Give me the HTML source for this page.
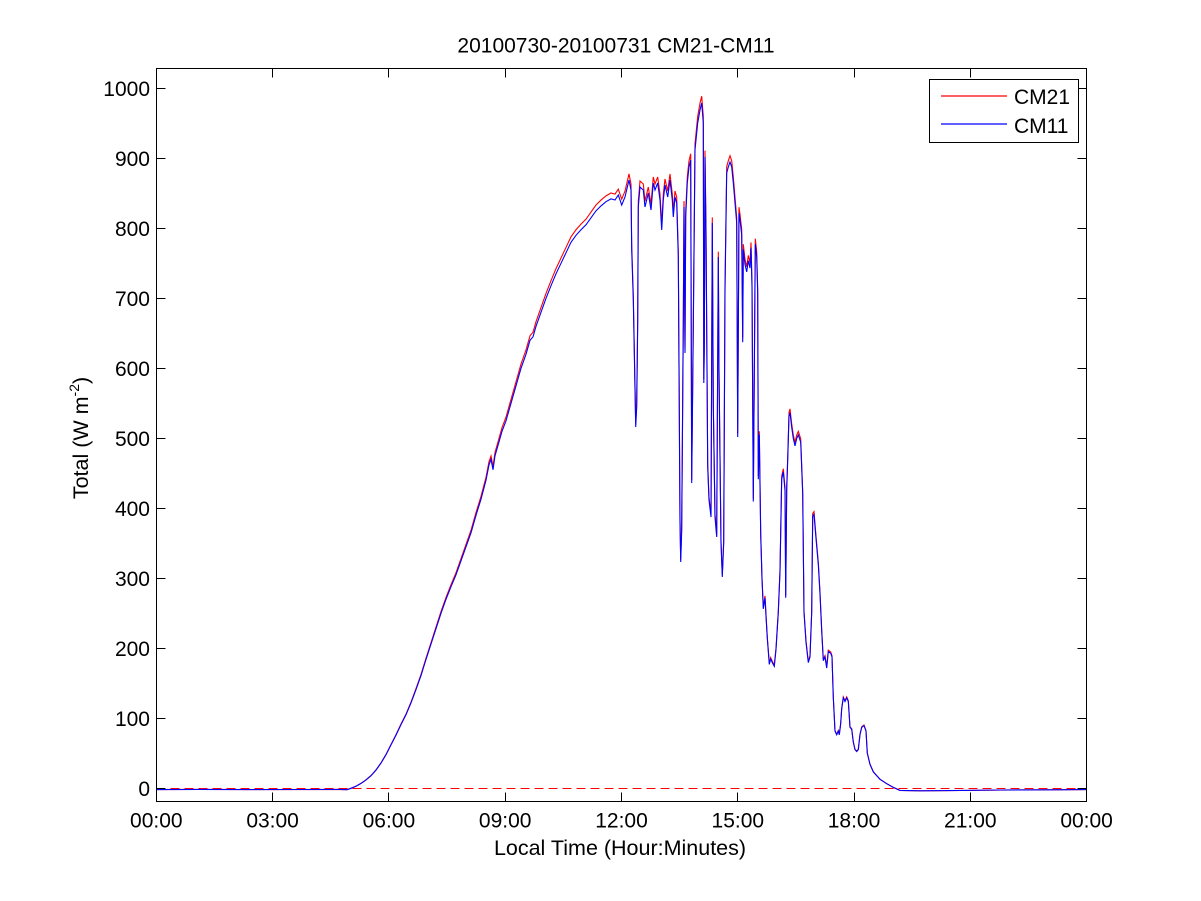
<!DOCTYPE html>
<html><head><meta charset="utf-8"><style>html,body{margin:0;padding:0;background:#fff}svg{display:block}</style></head>
<body>
<svg width="1201" height="901" viewBox="0 0 1201 901" xmlns="http://www.w3.org/2000/svg" xmlns:xlink="http://www.w3.org/1999/xlink" font-family="'Liberation Sans', Arial, sans-serif">
<rect width="1201" height="901" fill="#fff"/>
<defs>
<clipPath id="c"><rect x="156.5" y="68.5" width="930" height="733"/></clipPath>
<polyline id="dl" fill="none" points="156.3,789.6 200,789.4 250,789.6 300,789.5 340,789.4 347,789.7 351,788.3 356,786.2 361,783.4 366,779.9 371,775.7 376,770.1 381,763.1 386,754.7 391,744.9 396,735.1 401,724.6 406,714.8 411,702.9 416,689.6 421,675.6 426,659.5 431,644.1 436,628.7 441,613.3 446,599.3 451,586.7 456,574.8 461,560.8 466,546.8 471,532.8 476,515.3 481,499.2 486,480.3 489,464.9 491,459.3 493,469.8 495,455.8 498,445.3 502,431.3 506,420.8 511,403.3 516,385.8 521,368.3 526,354.3 530,340.3 533,336.8 536,326.3 541,312.3 546,298.3 551,285.7 556,273.8 561,263.3 566,252.8 571,242.3 576,235.3 581,229.7 586,224.8 591,217.8 596,210.8 601,205.9 606,201.7 611,198.9 615,200 618.3,195 621.7,205 625,197 629,180 631,190 631.7,250 633.3,300 634.3,353 635.7,427 636.7,407 637.7,323 638.3,207 640,187 643.3,190 645,207 648.3,193 651,210 653.3,183 655,190 657.7,183 660,200 661.7,230 663.3,200 665,185 667.7,197 670,180 672.3,200 673.3,217 675,197 676.7,203 678.3,257 680,523 680.7,562 681.7,530 683.3,323 684,207 685,353 685.7,217 687.3,183 689,167 690.7,160 691.7,483 693.3,327 695,150 697.7,123 700,110 701.7,103 703.3,123 703.8,383 704.3,350 705,157 706,233 707.7,467 709,500 711,517 712.3,223 713.3,407 715,517 716.7,537 718.3,257 719,373 721,543 722.3,577 723.7,543 725,290 726.7,173 728.3,167 730,162 731.7,167 733.3,183 736.7,223 737.7,437 739,213 740,220 741.7,234.8 742.7,342.2 743.3,249.6 745,264.4 746.7,271.9 748.3,260.7 750,268.1 751,247.8 752,286.7 753.3,501.5 754.3,375.6 755.3,244.1 756.7,257 757.7,294 758.3,479.3 759.3,434.8 760.7,534.8 762,579.3 763.3,608.9 765,597.8 766,616.3 767.3,638.5 769.3,664.4 770.7,658.9 772.3,662.6 774.3,666.3 776,649.6 778.3,612.6 780,571.9 781.7,479.3 783.3,471.9 785,490.4 785.7,597.8 786.7,490.4 787.7,460.7 789,416.3 790,412.6 791.7,427.4 793.3,438.5 795,445.9 796.7,438.5 798.3,434.8 800.7,442.2 802.7,494.1 804,612.6 806,642.2 808.3,662.6 810,657 811.7,612.6 812.7,516.3 814,514.4 816,538.5 818.3,564.4 820,594.1 821.7,631.1 823.3,660.7 825,657 826.7,668.1 828.3,651.5 830.7,653.3 832,657 833.3,697.8 835,731.1 836.7,734.8 838.3,731.1 839.3,734.8 840.7,723.7 841.7,708.9 843.3,697.8 845,701.5 846.7,697.8 848.3,701.5 850,727.4 851.7,729.3 853.3,742.2 855,749.6 856.7,751.5 858.3,749.6 860,734.8 861.7,727.4 864,725.6 866,731.1 867.3,753.3 870,764.4 873.3,771.9 880,779.3 886.7,783.7 893.3,787.4 900,790.4 920,790.8 950,790.6 1000,790 1050,789.8 1087,789.6"/>
</defs>

<!-- title -->
<text x="616" y="52.5" font-size="21" text-anchor="middle" fill="#000">20100730-20100731 CM21-CM11</text>

<g clip-path="url(#c)">
<line x1="156.5" y1="788.5" x2="1086.5" y2="788.5" stroke="#ff0000" stroke-width="1" stroke-dasharray="9 5"/>
<use href="#dl" xlink:href="#dl" stroke="#ff0000" stroke-width="1.1" fill="none" transform="translate(0,788.3) scale(1,1.01) translate(0,-788.3)"/>
<use href="#dl" xlink:href="#dl" stroke="#0000ff" stroke-width="1.1" fill="none"/>
</g>

<!-- axes box -->
<rect x="156.5" y="68.5" width="930" height="733" fill="none" stroke="#000" stroke-width="1"/>

<!-- ticks -->
<g stroke="#000" stroke-width="1">
<path d="M156.5 788.5h9M156.5 718.5h9M156.5 648.5h9M156.5 578.5h9M156.5 508.5h9M156.5 438.5h9M156.5 368.5h9M156.5 298.5h9M156.5 228.5h9M156.5 158.5h9M156.5 88.5h9"/>
<path d="M1086.5 788.5h-9M1086.5 718.5h-9M1086.5 648.5h-9M1086.5 578.5h-9M1086.5 508.5h-9M1086.5 438.5h-9M1086.5 368.5h-9M1086.5 298.5h-9M1086.5 228.5h-9M1086.5 158.5h-9M1086.5 88.5h-9"/>
<path d="M272.5 801.5v-9M388.5 801.5v-9M505.5 801.5v-9M621.5 801.5v-9M737.5 801.5v-9M854.5 801.5v-9M970.5 801.5v-9"/>
<path d="M272.5 68.5v9M388.5 68.5v9M505.5 68.5v9M621.5 68.5v9M737.5 68.5v9M854.5 68.5v9M970.5 68.5v9"/>
</g>

<!-- y tick labels -->
<g font-size="21" text-anchor="end" fill="#000">
<text x="150" y="796">0</text>
<text x="150" y="726">100</text>
<text x="150" y="656">200</text>
<text x="150" y="586">300</text>
<text x="150" y="516">400</text>
<text x="150" y="446">500</text>
<text x="150" y="376">600</text>
<text x="150" y="306">700</text>
<text x="150" y="236">800</text>
<text x="150" y="166">900</text>
<text x="150" y="96">1000</text>
</g>

<!-- x tick labels -->
<g font-size="21" text-anchor="middle" fill="#000">
<text x="156.3" y="827.5">00:00</text>
<text x="272.6" y="827.5">03:00</text>
<text x="388.9" y="827.5">06:00</text>
<text x="505.2" y="827.5">09:00</text>
<text x="621.5" y="827.5">12:00</text>
<text x="737.8" y="827.5">15:00</text>
<text x="854" y="827.5">18:00</text>
<text x="970.3" y="827.5">21:00</text>
<text x="1086.6" y="827.5">00:00</text>
</g>

<!-- axis labels -->
<text x="620" y="855" font-size="21.5" text-anchor="middle" fill="#000">Local Time (Hour:Minutes)</text>
<text transform="translate(88,438) rotate(-90)" font-size="21.5" text-anchor="middle" fill="#000">Total (W m<tspan font-size="14" dy="-9">-2</tspan><tspan dy="9">)</tspan></text>

<!-- legend -->
<rect x="929.5" y="79.5" width="149" height="63" fill="#fff" stroke="#000" stroke-width="1"/>
<line x1="941" y1="96" x2="1007" y2="96" stroke="#ff0000" stroke-width="1.2"/>
<line x1="941" y1="124" x2="1007" y2="124" stroke="#0000ff" stroke-width="1.2"/>
<g font-size="21" fill="#000">
<text x="1014" y="104">CM21</text>
<text x="1014" y="133">CM11</text>
</g>
</svg>
</body></html>
